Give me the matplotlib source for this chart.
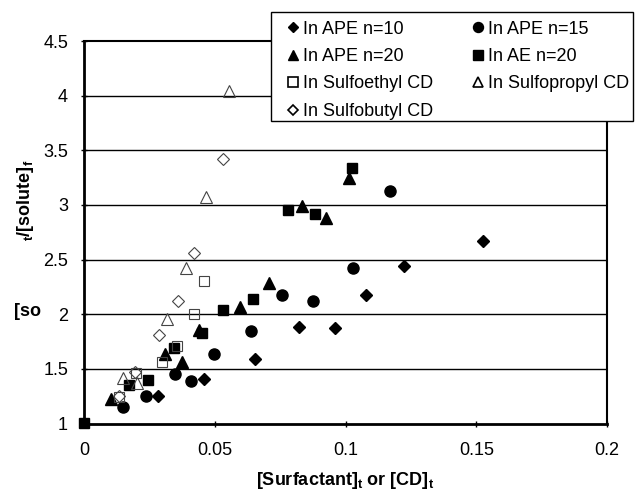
import matplotlib
matplotlib.use("Agg")
import matplotlib.pyplot as plt
from matplotlib.lines import Line2D
from matplotlib.patches import Rectangle

plt.rcParams['font.family'] = ['Liberation Sans', 'DejaVu Sans']
plt.rcParams['mathtext.fontset'] = 'custom'
plt.rcParams['mathtext.rm'] = 'Liberation Sans'
plt.rcParams['mathtext.bf'] = 'Liberation Sans:bold'

# ---- data ----
ape10_x = [0.0284, 0.0459, 0.0655, 0.0823, 0.0960, 0.1077, 0.1225, 0.1527]
ape10_y = [1.25, 1.41, 1.59, 1.88, 1.87, 2.18, 2.44, 2.67]

ape15_x = [0.0150, 0.0237, 0.0349, 0.0408, 0.0497, 0.0639, 0.0756, 0.0875, 0.1030, 0.1170]
ape15_y = [1.15, 1.25, 1.45, 1.39, 1.64, 1.85, 2.18, 2.12, 2.42, 3.13]

ape20_x = [0.0102, 0.0310, 0.0376, 0.0440, 0.0597, 0.0707, 0.0834, 0.0924, 0.1015]
ape20_y = [1.22, 1.64, 1.56, 1.86, 2.07, 2.29, 2.99, 2.88, 3.25]

ae20_x = [0.0, 0.0173, 0.0244, 0.0345, 0.0450, 0.0532, 0.0647, 0.0780, 0.0883, 0.1026]
ae20_y = [1.0, 1.35, 1.40, 1.69, 1.83, 2.04, 2.14, 2.95, 2.92, 3.34]

se_x = [0.0135, 0.0199, 0.0297, 0.0354, 0.0420, 0.0459]
se_y = [1.245, 1.465, 1.56, 1.71, 2.00, 2.30]

sp_x = [0.0148, 0.0204, 0.0316, 0.0391, 0.0465, 0.0554]
sp_y = [1.42, 1.37, 1.96, 2.42, 3.075, 4.04]

sb_x = [0.0135, 0.0195, 0.0288, 0.0361, 0.0422, 0.0530]
sb_y = [1.25, 1.47, 1.81, 2.12, 2.56, 3.42]

labels = ['In APE n=10', 'In APE n=15', 'In APE n=20', 'In AE n=20',
          'In Sulfoethyl CD', 'In Sulfopropyl CD', 'In Sulfobutyl CD']

x_ticks = [0, 0.05, 0.1, 0.15, 0.2]
x_ticklabels = ['0', '0.05', '0.1', '0.15', '0.2']
y_ticks = [1, 1.5, 2, 2.5, 3, 3.5, 4, 4.5]
y_ticklabels = ['1', '1.5', '2', '2.5', '3', '3.5', '4', '4.5']

# ---- figure ----
W, H = 640, 493
fig = plt.figure(figsize=(6.4, 4.93), dpi=100)
ax = fig.add_axes([84/W, 1-423.5/H, (607-84)/W, (423.5-41)/H])

ax.set_xlim(0, 0.2)
ax.set_ylim(1, 4.5)

for yv in y_ticks[1:-1]:
    ax.axhline(yv, color='black', lw=1.0, zorder=1)

styles = [
    (ape10_x, ape10_y, dict(marker='D', ms=6.0, mfc='black', mec='black')),
    (ape15_x, ape15_y, dict(marker='o', ms=8.0, mfc='black', mec='black')),
    (ape20_x, ape20_y, dict(marker='^', ms=8.5, mfc='black', mec='black')),
    (ae20_x, ae20_y, dict(marker='s', ms=7.5, mfc='black', mec='black')),
    (se_x, se_y, dict(marker='s', ms=7.5, mfc='none', mec='#444444', mew=0.8)),
    (sp_x, sp_y, dict(marker='^', ms=8.5, mfc='none', mec='#444444', mew=0.8)),
    (sb_x, sb_y, dict(marker='D', ms=6.0, mfc='none', mec='#444444', mew=0.8)),
]
for (xs, ys, st), lab in zip(styles, labels):
    ax.plot(xs, ys, ls='none', zorder=3, clip_on=False, **st)

# legend box
box = Rectangle((271/W, 1-121/H), (633-271)/W, (121-12)/H,
                transform=fig.transFigure, facecolor='white',
                edgecolor='black', lw=1.0, clip_on=False, zorder=9)
ax.add_patch(box)

# legend handles (row-wise order -> column-major fill)
order = [0, 2, 4, 6, 1, 3, 5]
leg_handles = []
for i in order:
    st = dict(styles[i][2])
    st['mec'] = 'black'
    st['mew'] = 1.2 if st['mfc'] == 'none' else 1.0
    st['ms'] = st['ms'] * 0.9
    leg_handles.append(Line2D([], [], ls='none', **st))
leg = ax.legend(leg_handles, [labels[i] for i in order], ncol=2,
                loc='upper left', bbox_to_anchor=(287.5/W, 1-20.5/H),
                bbox_transform=fig.transFigure, fontsize=13, frameon=False,
                handlelength=0.6, handletextpad=0.25, labelspacing=0.58,
                columnspacing=2.2, borderpad=0, borderaxespad=0)
leg.set_zorder(10)

ax.set_xticks(x_ticks)
ax.set_xticklabels(x_ticklabels)
ax.set_yticks(y_ticks)
ax.set_yticklabels(y_ticklabels)
ax.tick_params(axis='both', direction='inout', length=5, width=1,
               labelsize=13, colors='black')
ax.tick_params(axis='y', pad=9)
ax.tick_params(axis='x', pad=11)

for side in ['left', 'bottom']:
    ax.spines[side].set_linewidth(2.0)
for side in ['top', 'right']:
    ax.spines[side].set_linewidth(1.5)

ax.set_xlabel(r'[Surfactant]$_\mathbf{t}$ or [CD]$_\mathbf{t}$',
              fontsize=13, fontweight='bold', labelpad=8)

fig.text(25/W, 1-200/H, r'$_\mathbf{t}$/[solute]$_\mathbf{f}$',
         rotation=90, fontsize=13, fontweight='bold', ha='center', va='center')
fig.text(14/W, 1-311/H, '[so', fontsize=13, fontweight='bold',
         ha='left', va='center')

fig.savefig('out.png', dpi=100)
